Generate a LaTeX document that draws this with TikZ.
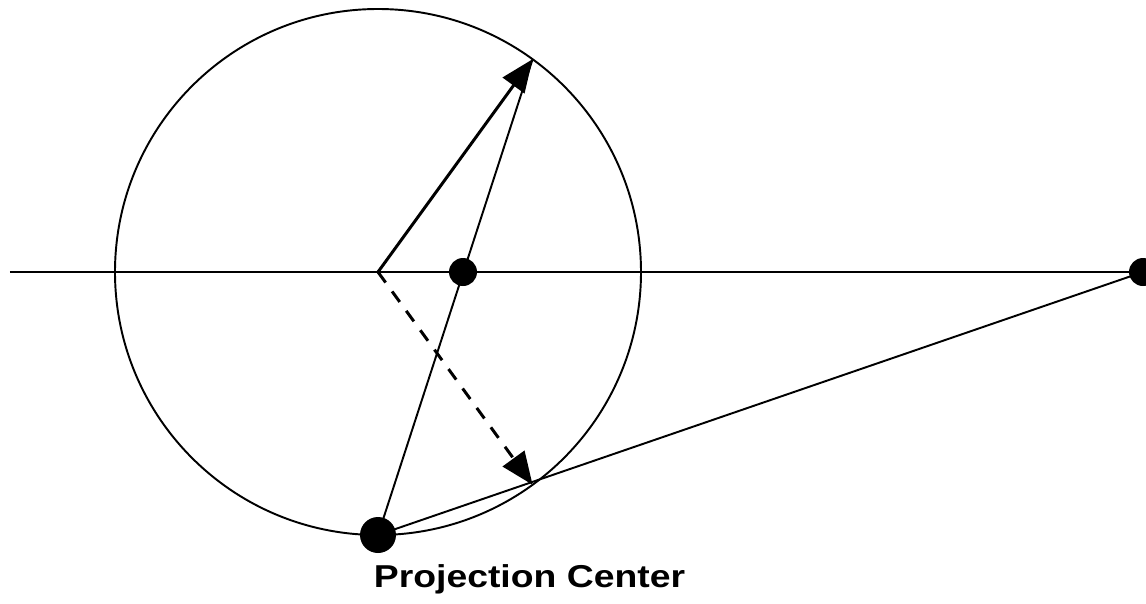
\documentclass[tikz,border=0pt]{standalone}
\usepackage{fontspec}
\setmainfont{Liberation Sans}
\usetikzlibrary{arrows.meta}

\begin{document}
\begin{tikzpicture}[line width=1.1pt, dot/.style={circle, fill=black, inner sep=0pt, minimum size=0.56cm}, bigdot/.style={dot, minimum size=0.72cm}, arr/.style={line width=1.7pt, -{Triangle[length=0.65cm, width=0.53cm]}}, titletext/.style={font=\bfseries\fontsize{18}{21}\selectfont, inner sep=0pt}]
\useasboundingbox (-7.56,-6.62) rectangle (15.36,5.44);
\coordinate (o) at (0,0);
\draw (o) circle (5.26);
\coordinate (left) at (-7.36,0);
\coordinate (p) at (54:5.26);
\coordinate (q) at (-54:5.26);
\node[dot] (image) at (1.70,0) {};
\node[dot] (far) at (15.30,0) {};
\node[bigdot] (proj) at (0,-5.26) {};
\draw (left) -- (far.center);
\draw (proj.center) -- (p);
\draw (proj.center) -- (far.center);
\draw[arr] (o) -- (p);
\draw[arr, dash pattern=on 0.26cm off 0.22cm] (o) -- (q);
\node[titletext, anchor=base west] (title) at (-0.10,-6.30) {\scalebox{1.18}[1]{Projection Center}};
\end{tikzpicture}
\end{document}
